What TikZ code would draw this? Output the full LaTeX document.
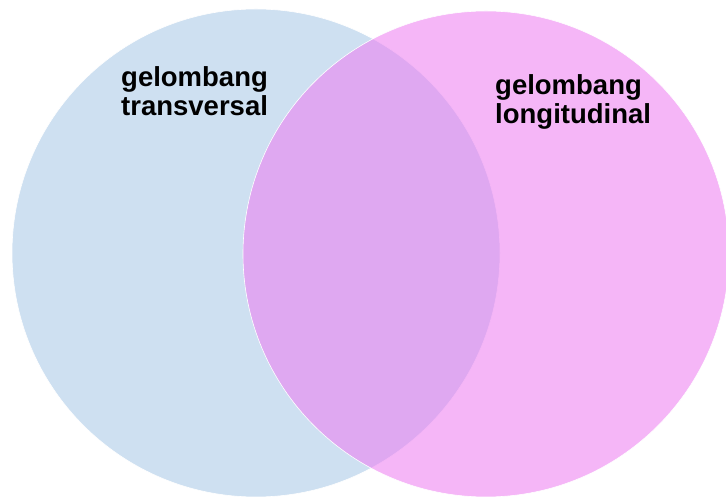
\documentclass[tikz,border=0pt]{standalone}
\usepackage{fontspec}
\setmainfont{Liberation Sans}
\usepackage{tikz}

\definecolor{transblue}{RGB}{206,224,241}
\definecolor{longpink}{RGB}{237,125,241}

\tikzset{
  setlabel/.style={anchor=north west, inner sep=0pt, align=left,
    font=\fontsize{27.5}{29}\selectfont\bfseries, text=black},
  setedge/.style={draw=white, line width=0.6pt}
}

\begin{document}
\begin{tikzpicture}[x=1pt, y=1pt]
			%%%%% START %%%%%
			\useasboundingbox (0, 0) rectangle (726, 497);
			
			% transverse set
			\draw[setedge, fill=transblue] (256, 244) circle (244);
			
			% longitudinal set, laid over the first one
			\draw[setedge, fill=longpink, fill opacity=0.56] (486, 243) circle (243);
			
			\node[setlabel] (transversal) at (121, 431) {gelombang\\transversal};
			\node[setlabel] (longitudinal) at (495, 423) {gelombang\\longitudinal};
			%%%%% END %%%%%
		\end{tikzpicture}
\end{document}
